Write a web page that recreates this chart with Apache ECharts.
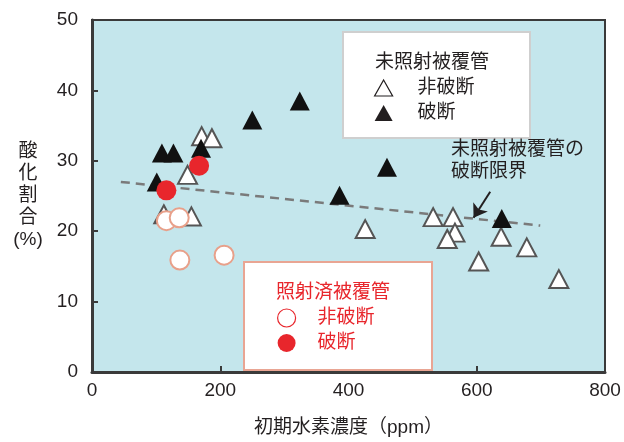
<!DOCTYPE html>
<html>
<head>
<meta charset="utf-8">
<script src="https://cdn.jsdelivr.net/npm/echarts@6/dist/echarts.min.js"></script>
<style>
  html, body { margin: 0; padding: 0; background: #fff; }
  #chart { width: 624px; height: 442px; }
</style>
</head>
<body>
<div id="chart"></div>
<script>
// 初期水素濃度 (ppm), 酸化割合 (%)
const unirrIntact = [[171, 33.5], [187, 33.2], [149, 28.0], [112, 22.4], [155, 22.1], [426, 20.3], [532, 22.0], [563, 22.0], [566, 19.8], [554, 18.9], [638, 19.2], [678, 17.7], [603, 15.7], [728, 13.2]];
const unirrFailed = [[109, 31.1], [127, 31.1], [101, 27.0], [170, 31.8], [250, 35.8], [324, 38.5], [386, 25.1], [460, 29.1], [639, 21.8]];
const irrIntact = [[116, 21.5], [136, 21.9], [137, 15.9], [206, 16.6]];
const irrFailed = [[116, 25.8], [167, 29.3]];
const limitLine = [[45, 27.0], [699, 20.8]];
const arrowFrom = [621, 25.6];
const arrowTo = [595, 21.9];
const xTicks = { min: 0, max: 800, interval: 200 };
const yTicks = { min: 0, max: 50, interval: 10 };

const FONT = "'Liberation Sans', 'Noto Sans CJK JP', sans-serif";
const RED = '#e8262c';
const INK = '#231f20';

const chart = echarts.init(document.getElementById('chart'));

const option = {
  animation: false,
  textStyle: { fontFamily: FONT },
  grid: {
    left: 92, right: 19, top: 20, bottom: 60,
    show: true,
    backgroundColor: '#c4e6ec',
    borderColor: '#3a3a3a',
    borderWidth: 2
  },
  xAxis: {
    type: 'value',
    min: xTicks.min, max: xTicks.max, interval: xTicks.interval,
    name: '初期水素濃度（ppm）',
    nameLocation: 'middle',
    nameGap: 46,
    nameTextStyle: { fontSize: 19, color: INK, fontFamily: FONT },
    axisLine: { lineStyle: { color: '#3a3a3a', width: 3 } },
    axisTick: { inside: true, length: 6, lineStyle: { color: '#3a3a3a', width: 2 } },
    axisLabel: { fontSize: 19, color: INK, margin: 9, fontFamily: FONT },
    splitLine: { show: false }
  },
  yAxis: {
    type: 'value',
    min: yTicks.min, max: yTicks.max, interval: yTicks.interval,
    name: '酸\n化\n割\n合\n(%)',
    nameLocation: 'middle',
    nameRotate: 0,
    nameGap: 64,
    nameTextStyle: { fontSize: 19, color: INK, align: 'center', verticalAlign: 'middle', lineHeight: 22, fontFamily: FONT },
    axisLine: { lineStyle: { color: '#3a3a3a', width: 3 } },
    axisTick: { inside: true, length: 6, lineStyle: { color: '#3a3a3a', width: 2 } },
    axisLabel: { fontSize: 19, color: INK, margin: 14, fontFamily: FONT },
    splitLine: { show: false }
  },
  legend: [
    {
      orient: 'vertical',
      left: 374, top: 78,
      padding: 0,
      z: 20,
      itemWidth: 18, itemHeight: 16, itemGap: 5,
      selectedMode: false,
      formatter: name => name.split(' ')[1],
      textStyle: { fontSize: 19, color: INK, lineHeight: 20, padding: [0, 0, 0, 20], fontFamily: FONT },
      data: [
        { name: '未照射 非破断', icon: 'triangle', itemStyle: { color: '#fff', borderColor: INK, borderWidth: 1.2, opacity: 1 } },
        { name: '未照射 破断', icon: 'triangle', itemStyle: { color: INK, borderWidth: 0, opacity: 1 } }
      ]
    },
    {
      orient: 'vertical',
      left: 277, top: 308,
      padding: 0,
      z: 20,
      itemWidth: 18, itemHeight: 18, itemGap: 5,
      selectedMode: false,
      formatter: name => name.split(' ')[1],
      textStyle: { fontSize: 19, color: RED, lineHeight: 20, padding: [0, 0, 0, 17], fontFamily: FONT },
      data: [
        { name: '照射済 非破断', icon: 'circle', itemStyle: { color: '#fff', borderColor: RED, borderWidth: 1.2, opacity: 1 } },
        { name: '照射済 破断', icon: 'circle', itemStyle: { color: RED, borderWidth: 0, opacity: 1 } }
      ]
    }
  ],
  graphic: [
    { type: 'rect', z: 10, shape: { x: 343, y: 32, width: 187, height: 106 },
      style: { fill: '#fff', stroke: '#cfcfcf', lineWidth: 2 } },
    { type: 'text', z: 11, style: { x: 375, y: 63, text: '未照射被覆管', font: '19px ' + FONT, fill: INK, verticalAlign: 'middle' } },
    { type: 'rect', z: 10, shape: { x: 244, y: 262, width: 188, height: 108 },
      style: { fill: '#fff', stroke: '#e9a593', lineWidth: 2 } },
    { type: 'text', z: 11, style: { x: 276, y: 293, text: '照射済被覆管', font: '19px ' + FONT, fill: RED, verticalAlign: 'middle' } },
    { type: 'text', z: 11, style: { x: 451, y: 161, text: '未照射被覆管の\n破断限界', font: '19px ' + FONT, fill: INK, verticalAlign: 'middle', lineHeight: 22 } }
  ],
  series: [
    {
      name: '破断限界',
      type: 'line',
      data: limitLine,
      symbol: 'none',
      z: 1,
      lineStyle: { color: '#7a7a7a', width: 2.5, type: [9, 6] },
      markLine: {
        silent: true,
        symbol: ['none', 'arrow'],
        symbolSize: 13,
        label: { show: false },
        lineStyle: { color: INK, width: 2, type: 'solid', opacity: 1 },
        data: [[{ coord: arrowFrom }, { coord: arrowTo }]]
      }
    },
    {
      name: '未照射 非破断',
      type: 'scatter',
      data: unirrIntact,
      symbol: 'triangle',
      symbolSize: [19, 18],
      itemStyle: { color: '#fff', borderColor: '#555', borderWidth: 2, opacity: 1 },
      z: 3
    },
    {
      name: '未照射 破断',
      type: 'scatter',
      data: unirrFailed,
      symbol: 'triangle',
      symbolSize: [20, 19],
      itemStyle: { color: '#111', opacity: 1 },
      z: 4
    },
    {
      name: '照射済 非破断',
      type: 'scatter',
      data: irrIntact,
      symbol: 'circle',
      symbolSize: 19,
      itemStyle: { color: '#fff', borderColor: '#e8a08a', borderWidth: 2, opacity: 1 },
      z: 5
    },
    {
      name: '照射済 破断',
      type: 'scatter',
      data: irrFailed,
      symbol: 'circle',
      symbolSize: 20,
      itemStyle: { color: RED, opacity: 1 },
      z: 6
    }
  ]
};

chart.setOption(option);
</script>
</body>
</html>
